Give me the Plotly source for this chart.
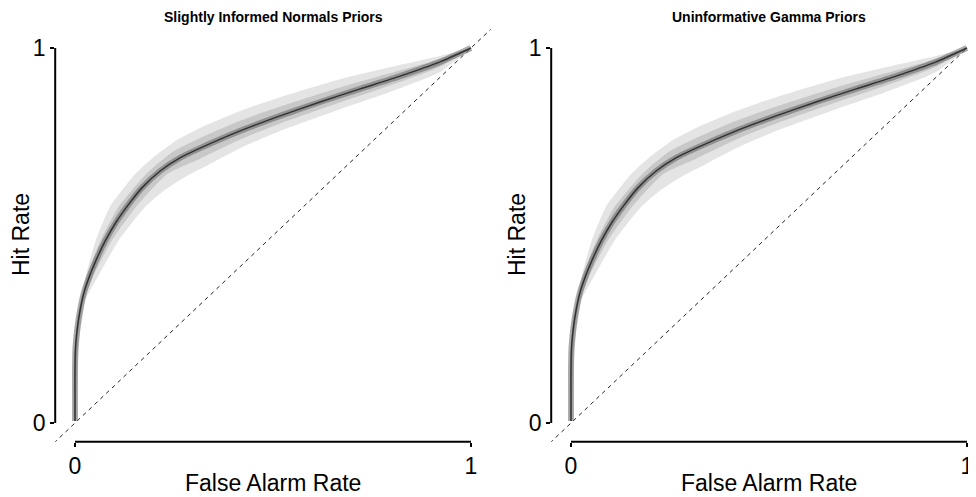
import plotly.graph_objects as go

# ---------------- data ----------------
panel_titles = ["Slightly Informed Normals Priors", "Uninformative Gamma Priors"]
x_label = "False Alarm Rate"
y_label = "Hit Rate"
tick_vals = [0, 1]
tick_text = ["0", "1"]
diag = [-0.2, 1.2]

# central (posterior mean) ROC curve
center_x = [0.0, 0.0, 0.0, 0.001, 0.004, 0.008, 0.014, 0.023, 0.035, 0.051, 0.076, 0.104, 0.134,
            0.169, 0.215, 0.265, 0.316, 0.417, 0.518, 0.619, 0.720, 0.821, 0.922, 1.0]
center_y = [0.005, 0.061, 0.141, 0.195, 0.235, 0.269, 0.307, 0.349, 0.387, 0.429, 0.485, 0.536, 0.581,
            0.627, 0.672, 0.707, 0.733, 0.779, 0.819, 0.856, 0.891, 0.925, 0.963, 1.0]

# outer credible band
outer_up_x = [-0.004, -0.004, -0.0025, 0.0, 0.005, 0.014, 0.029, 0.053, 0.088, 0.119, 0.152, 0.202,
              0.258, 0.316, 0.417, 0.518, 0.669, 0.795, 0.922, 1.0]
outer_up_y = [0.005, 0.088, 0.168, 0.221, 0.275, 0.328, 0.400, 0.488, 0.576, 0.621, 0.664, 0.712,
              0.755, 0.787, 0.832, 0.869, 0.917, 0.949, 0.979, 1.0]
outer_lo_x = [0.004, 0.005, 0.0076, 0.0126, 0.019, 0.0265, 0.063, 0.111, 0.177, 0.227, 0.278, 0.316,
              0.417, 0.518, 0.669, 0.795, 0.922, 1.0]
outer_lo_y = [0.005, 0.088, 0.168, 0.235, 0.280, 0.328, 0.400, 0.488, 0.576, 0.621, 0.656, 0.677,
              0.733, 0.779, 0.837, 0.883, 0.936, 1.0]

# inner credible band
mid_up_x = [-0.0015, -0.0015, -0.001, 0.002, 0.006, 0.0155, 0.033, 0.065, 0.110, 0.180, 0.245, 0.316,
            0.417, 0.518, 0.669, 0.795, 0.922, 1.0]
mid_up_y = [0.005, 0.100, 0.170, 0.235, 0.280, 0.328, 0.400, 0.488, 0.576, 0.664, 0.722, 0.760,
            0.806, 0.844, 0.895, 0.933, 0.971, 1.0]
mid_lo_x = [0.0025, 0.003, 0.005, 0.008, 0.013, 0.022, 0.050, 0.094, 0.154, 0.233, 0.316, 0.417,
            0.518, 0.669, 0.795, 0.922, 1.0]
mid_lo_y = [0.005, 0.100, 0.170, 0.235, 0.280, 0.328, 0.400, 0.488, 0.576, 0.664, 0.705, 0.756,
            0.799, 0.855, 0.900, 0.950, 1.0]

FONT = "Liberation Sans, Arial, Helvetica, sans-serif"
W, H = 968, 489          # page has an 8px body margin
OFF = 8

def px_x(p):
    return (p - OFF) / W

def px_y(p):
    return (H - (p - OFF)) / H

fig = go.Figure()

for i in range(2):
    xa = "x" if i == 0 else "x2"
    ya = "y" if i == 0 else "y2"
    fig.add_trace(go.Scatter(x=diag, y=diag, xaxis=xa, yaxis=ya, mode="lines",
                             line=dict(color="#222222", width=1, dash="4px,4px"),
                             hoverinfo="skip", showlegend=False))
    fig.add_trace(go.Scatter(x=outer_up_x + outer_lo_x[::-1], y=outer_up_y + outer_lo_y[::-1],
                             xaxis=xa, yaxis=ya, mode="lines", fill="toself",
                             fillcolor="rgb(228,228,228)", line=dict(width=0, shape="spline", smoothing=0.6),
                             hoverinfo="skip", showlegend=False))
    fig.add_trace(go.Scatter(x=mid_up_x + mid_lo_x[::-1], y=mid_up_y + mid_lo_y[::-1],
                             xaxis=xa, yaxis=ya, mode="lines", fill="toself",
                             fillcolor="rgb(200,200,200)", line=dict(width=0, shape="spline", smoothing=0.6),
                             hoverinfo="skip", showlegend=False))
    fig.add_trace(go.Scatter(x=center_x, y=center_y, xaxis=xa, yaxis=ya, mode="lines",
                             line=dict(color="rgba(90,90,90,0.5)", width=6, shape="spline", smoothing=0.6),
                             hoverinfo="skip", showlegend=False))
    fig.add_trace(go.Scatter(x=center_x, y=center_y, xaxis=xa, yaxis=ya, mode="lines",
                             line=dict(color="rgb(50,50,50)", width=1.5, shape="spline", smoothing=0.6),
                             hoverinfo="skip", showlegend=False))

axis_common = dict(showgrid=False, zeroline=False, showline=False, ticks="outside", ticklen=4,
                   tickwidth=2, tickcolor="black", tickvals=tick_vals, ticktext=tick_text,
                   tickfont=dict(family=FONT, size=23, color="black"), fixedrange=True)

ydom = [px_y(441.75), px_y(29.25)]
fig.update_layout(
    width=W, height=H, margin=dict(l=0, r=0, t=0, b=0),
    paper_bgcolor="white", plot_bgcolor="white", showlegend=False,
    xaxis=dict(domain=[px_x(55.2), px_x(490.8)], range=[-0.05, 1.05], anchor="y", **axis_common),
    yaxis=dict(domain=ydom, range=[-0.05, 1.05], anchor="x", **axis_common),
    xaxis2=dict(domain=[px_x(551.2), 1.0], range=[-0.05, 1.0227], anchor="y2", **axis_common),
    yaxis2=dict(domain=ydom, range=[-0.05, 1.05], anchor="x2", **axis_common),
)

shapes = []
annotations = []
for i in range(2):
    xa = "x" if i == 0 else "x2"
    ya = "y" if i == 0 else "y2"
    shapes.append(dict(type="line", xref=xa, yref=ya + " domain", x0=tick_vals[0], x1=tick_vals[1],
                       y0=0, y1=0, line=dict(color="black", width=2)))
    shapes.append(dict(type="line", xref=xa + " domain", yref=ya, x0=0, x1=0,
                       y0=tick_vals[0], y1=tick_vals[1], line=dict(color="black", width=2)))
    annotations.append(dict(text="<b>%s</b>" % panel_titles[i], xref=xa, yref="paper", x=0.5, y=px_y(17),
                            showarrow=False, font=dict(family=FONT, size=14, color="black"),
                            xanchor="center", yanchor="middle"))
    annotations.append(dict(text=x_label, xref=xa, yref="paper", x=0.5, y=px_y(483),
                            showarrow=False, font=dict(family=FONT, size=23, color="black"),
                            xanchor="center", yanchor="middle"))
    annotations.append(dict(text=y_label, xref="paper", yref="paper", x=px_x(21 if i == 0 else 517),
                            y=px_y(235), textangle=-90, showarrow=False,
                            font=dict(family=FONT, size=23, color="black"),
                            xanchor="center", yanchor="middle"))
fig.update_layout(shapes=shapes, annotations=annotations)

fig.write_html("out.html")
